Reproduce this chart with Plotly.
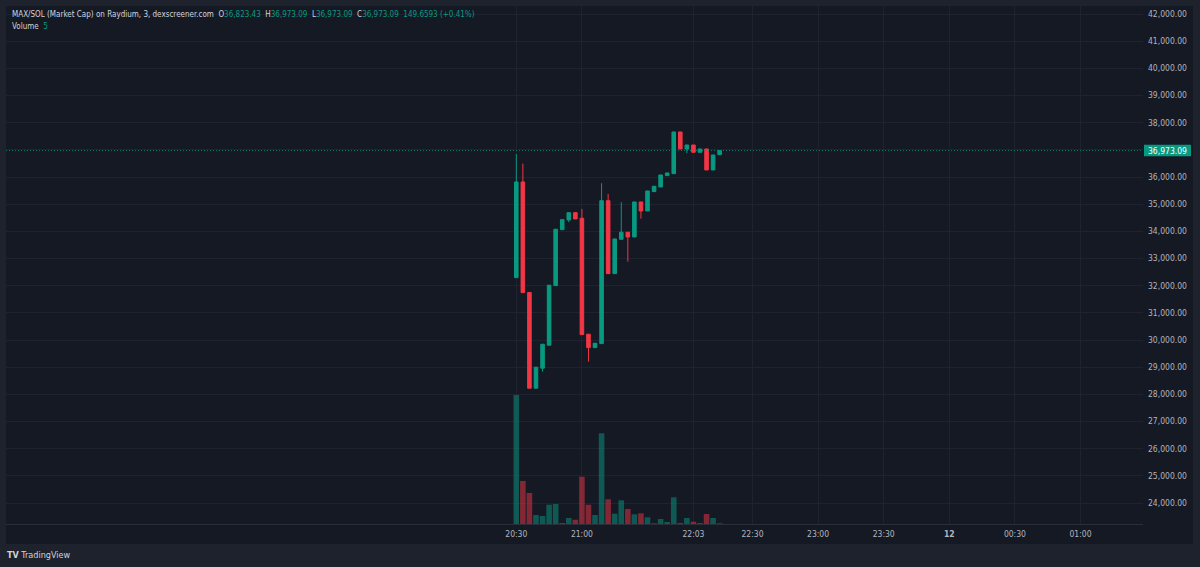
import plotly.graph_objects as go

# ---------------- data ----------------
bar_index = list(range(32))
opens  = [32295, 35817, 31750, 28226, 28962, 29808, 32002, 34062, 34419, 34688,
          34482, 30213, 29720, 29867, 35129, 32443, 33708, 33967, 33794, 35082,
          34750, 35461, 35634, 36051, 36124, 37658, 37032, 37179, 36910, 37032,
          36259, 36823.43]
highs  = [36847, 36491, 31750, 28999, 29845, 32016, 34077, 34430, 34688, 34688,
          34824, 30213, 29882, 35770, 35376, 33720, 35071, 33967, 35082, 35082,
          35486, 35659, 36075, 36149, 37658, 37658, 37179, 37179, 37032, 37032,
          36811, 36973.09]
lows   = [32295, 31744, 28226, 28226, 28837, 29808, 32002, 34062, 34334, 34456,
          30198, 29205, 29720, 29867, 32443, 32443, 33708, 32885, 33794, 34467,
          34750, 35461, 35634, 36051, 36124, 37032, 36874, 36910, 36910, 36259,
          36259, 36823.43]
closes = [35817, 31744, 28226, 28999, 29845, 32016, 34077, 34430, 34688, 34456,
          30198, 29720, 29882, 35129, 32443, 33720, 33967, 33794, 35082, 34750,
          35486, 35659, 36075, 36149, 37658, 37032, 37179, 36910, 37032, 36259,
          36811, 36973.09]
volumes = [903, 301, 217, 63, 56, 135, 140, 7, 42, 30, 331, 135, 63, 635, 173, 72,
           166, 105, 68, 75, 47, 5, 35, 14, 187, 7, 42, 16, 7, 70, 42, 5]

tick_positions = [0, 10, 27, 36, 46, 56, 66, 76, 86]
tick_labels = ["20:30", "21:00", "22:03", "22:30", "23:00", "23:30", "<b>12</b>", "00:30", "01:00"]
last_price = 36973.09

# ---------------- style ----------------
UP = "#089981"
DOWN = "#F23645"
UP_VOL = "rgba(8,153,129,0.5)"
DOWN_VOL = "rgba(242,54,69,0.5)"
PANEL = "#151924"
OUTER = "#1e222d"
GRID = "#1f2330"
TEXT = "#b2b5be"
FONT = "DejaVu Sans Condensed, DejaVu Sans, sans-serif"

vol_colors = [UP_VOL if c >= o else DOWN_VOL for o, c in zip(opens, closes)]

fig = go.Figure()

fig.add_trace(go.Bar(
    x=bar_index, y=volumes, yaxis="y2", marker=dict(color=vol_colors, line=dict(width=0)),
    width=0.85, showlegend=False, hoverinfo="skip"))

fig.add_trace(go.Candlestick(
    x=bar_index, open=opens, high=highs, low=lows, close=closes,
    increasing=dict(line=dict(color=UP, width=1), fillcolor=UP),
    decreasing=dict(line=dict(color=DOWN, width=1), fillcolor=DOWN),
    whiskerwidth=0, showlegend=False))

W, H = 1200, 567
L, R, T, B = 6, 57, 6, 43
pw, ph = W - L - R, H - T - B

px_per_bar = 6.5605
x0_px = 516.3
xmin = (L - x0_px) / px_per_bar
xmax = (W - R - x0_px) / px_per_bar

px_per_1000 = 27.17
ymax = 42000 + (14 - T) / px_per_1000 * 1000
ymin = 24000 - (H - B - 503) / px_per_1000 * 1000

shapes = [
    # chart panel
    dict(type="rect", xref="paper", yref="paper", x0=0, x1=(1193 - L) / pw,
         y0=-(544 - (H - B)) / ph, y1=1, fillcolor=PANEL, line=dict(width=0), layer="below"),
    # current price dotted line
    dict(type="line", xref="paper", yref="y", x0=0, x1=1, y0=last_price, y1=last_price,
         line=dict(color="rgba(8,153,129,0.75)", width=1, dash="1px,2px")),
    # current price label box
    dict(type="rect", xref="paper", yref="y", x0=(1144 - L) / pw, x1=(1191 - L) / pw,
         y0=last_price - 210, y1=last_price + 210, fillcolor=UP, line=dict(width=0)),
]

annotations = [
    dict(xref="paper", yref="y", x=(1167.5 - L) / pw, y=last_price, text="36,973.09",
         showarrow=False, xanchor="center", yanchor="middle",
         font=dict(color="#ffffff", size=8.5, family=FONT)),
    dict(xref="paper", yref="paper", x=(10 - L) / pw, y=1 - (15 - T) / ph, xanchor="left", yanchor="middle",
         showarrow=False, font=dict(color="#d1d4dc", size=8, family=FONT),
         text=("MAX/SOL (Market Cap) on Raydium, 3, dexscreener.com&nbsp; "
               "O<span style='color:#089981'>36,823.43</span>&nbsp; "
               "H<span style='color:#089981'>36,973.09</span>&nbsp; "
               "L<span style='color:#089981'>36,973.09</span>&nbsp; "
               "C<span style='color:#089981'>36,973.09</span>&nbsp; "
               "<span style='color:#089981'>149.6593 (+0.41%)</span>")),
    dict(xref="paper", yref="paper", x=(10 - L) / pw, y=1 - (26 - T) / ph, xanchor="left", yanchor="middle",
         showarrow=False, font=dict(color="#d1d4dc", size=8, family=FONT),
         text="Volume&nbsp; <span style='color:#089981'>5</span>"),
    dict(xref="paper", yref="paper", x=(5 - L) / pw, y=-(555 - (H - B)) / ph, xanchor="left", yanchor="middle",
         showarrow=False, font=dict(color="#d1d4dc", size=9, family=FONT),
         text="<b>TV</b> TradingView"),
]

fig.update_layout(
    width=W, height=H,
    margin=dict(l=L, r=R, t=T, b=B),
    paper_bgcolor=OUTER, plot_bgcolor=PANEL,
    boxgap=0.22,
    bargap=0.15,
    font=dict(family=FONT, color=TEXT, size=8.5),
    xaxis=dict(range=[xmin, xmax], rangeslider=dict(visible=False),
               tickmode="array", tickvals=tick_positions, ticktext=tick_labels,
               showgrid=True, gridcolor=GRID, gridwidth=1, zeroline=False,
               showline=True, linecolor="#2a2e39", linewidth=1, ticks="",
               ticklabelstandoff=2,
               tickfont=dict(size=8.5, color=TEXT, family=FONT)),
    yaxis=dict(range=[ymin, ymax], side="right", dtick=1000, tick0=0,
               tickformat=",.2f", showgrid=True, gridcolor=GRID, gridwidth=1,
               zeroline=False, ticks="", ticklabelstandoff=4,
               tickfont=dict(size=8.5, color=TEXT, family=FONT)),
    yaxis2=dict(overlaying="y", range=[0, 3626], visible=False, showgrid=False),
    shapes=shapes,
    annotations=annotations,
    hovermode=False,
)

fig.write_html("out.html")
